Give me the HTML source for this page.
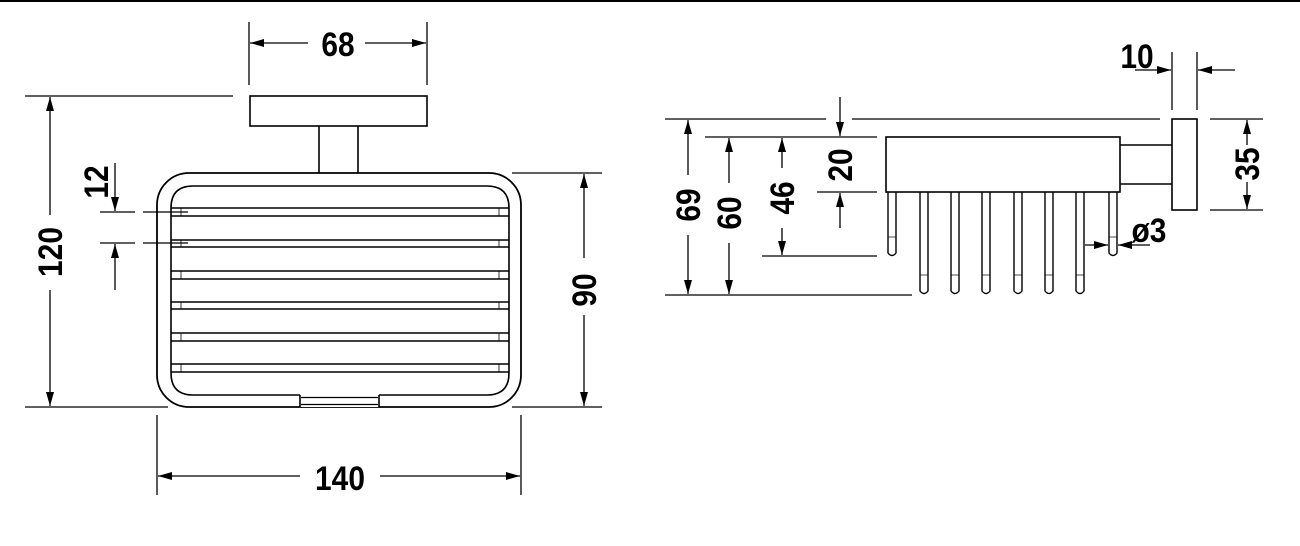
<!DOCTYPE html>
<html><head><meta charset="utf-8"><style>
html,body{margin:0;padding:0;background:#fff;}
svg{display:block}
text{font-family:"Liberation Sans Narrow","Liberation Sans",sans-serif;font-weight:bold;font-size:34px;fill:#000}
</style></head><body>
<svg width="1300" height="546" viewBox="0 0 1300 546" xmlns="http://www.w3.org/2000/svg">
<defs>
<marker id="a" viewBox="0 0 14 8" refX="14" refY="4" markerWidth="14" markerHeight="8" markerUnits="userSpaceOnUse" orient="auto-start-reverse">
<path d="M0,0 L14,4 L0,8 z" fill="#000"/></marker>
</defs>
<rect x="0" y="0" width="1300" height="2" fill="#000"/>
<g stroke="#000" stroke-width="1.3" fill="none">
<line x1="249" y1="22" x2="249" y2="85"/><line x1="427" y1="22" x2="427" y2="85"/>
<line x1="250" y1="43" x2="308" y2="43" marker-start="url(#a)"/>
<line x1="365" y1="43" x2="426" y2="43" marker-end="url(#a)"/>
<rect x="250" y="96" width="177" height="30" stroke-width="1.6"/>
<line x1="319" y1="126" x2="319" y2="173" stroke-width="1.6"/><line x1="358" y1="126" x2="358" y2="173" stroke-width="1.6"/>
<rect x="157" y="173" width="364" height="234" rx="32" stroke-width="1.8"/>
<path d="M300,395 L193,395 Q171,395 171,373 L171,208 Q171,186 193,186 L487,186 Q509,186 509,208 L509,373 Q509,395 487,395 L379,395" stroke-width="1.6"/>
<rect x="300" y="395" width="79" height="12" fill="#fff" stroke="none"/>
<line x1="301" y1="397.5" x2="378" y2="397.5"/><line x1="301" y1="404.5" x2="378" y2="404.5"/>
<line x1="300" y1="395" x2="300" y2="407" stroke-width="1.6"/><line x1="379" y1="395" x2="379" y2="407" stroke-width="1.6"/>
<g stroke-width="1.4">
<line x1="171" y1="208" x2="509" y2="208"/><line x1="171" y1="216" x2="509" y2="216"/>
<line x1="171" y1="240" x2="509" y2="240"/><line x1="171" y1="247" x2="509" y2="247"/>
<line x1="171" y1="271" x2="509" y2="271"/><line x1="171" y1="279" x2="509" y2="279"/>
<line x1="171" y1="302" x2="509" y2="302"/><line x1="171" y1="309" x2="509" y2="309"/>
<line x1="171" y1="333" x2="509" y2="333"/><line x1="171" y1="341" x2="509" y2="341"/>
<line x1="171" y1="364" x2="509" y2="364"/><line x1="171" y1="372" x2="509" y2="372"/>
</g>
<g stroke-width="0.8">
<line x1="181" y1="208" x2="181" y2="216"/><line x1="499" y1="208" x2="499" y2="216"/>
<line x1="181" y1="240" x2="181" y2="247"/><line x1="499" y1="240" x2="499" y2="247"/>
<line x1="181" y1="271" x2="181" y2="279"/><line x1="499" y1="271" x2="499" y2="279"/>
<line x1="181" y1="302" x2="181" y2="309"/><line x1="499" y1="302" x2="499" y2="309"/>
<line x1="181" y1="333" x2="181" y2="341"/><line x1="499" y1="333" x2="499" y2="341"/>
<line x1="181" y1="364" x2="181" y2="372"/><line x1="499" y1="364" x2="499" y2="372"/>
</g>
<line x1="100" y1="212" x2="135" y2="212"/><line x1="143" y1="212" x2="188" y2="212"/>
<line x1="100" y1="243" x2="135" y2="243"/><line x1="143" y1="243" x2="188" y2="243"/>
<line x1="115" y1="163" x2="115" y2="211" marker-end="url(#a)"/>
<line x1="115" y1="290" x2="115" y2="244" marker-end="url(#a)"/>
<line x1="25" y1="96" x2="233" y2="96"/><line x1="25" y1="407" x2="168" y2="407"/>
<line x1="50" y1="97" x2="50" y2="215" marker-start="url(#a)"/>
<line x1="50" y1="290" x2="50" y2="406" marker-end="url(#a)"/>
<line x1="512" y1="173" x2="602" y2="173"/><line x1="512" y1="407" x2="602" y2="407"/>
<line x1="584" y1="174" x2="584" y2="258" marker-start="url(#a)"/>
<line x1="584" y1="315" x2="584" y2="406" marker-end="url(#a)"/>
<line x1="157" y1="415" x2="157" y2="495"/><line x1="521" y1="415" x2="521" y2="495"/>
<line x1="158" y1="476" x2="300" y2="476" marker-start="url(#a)"/>
<line x1="380" y1="476" x2="520" y2="476" marker-end="url(#a)"/>

<line x1="665" y1="119" x2="826" y2="119"/><line x1="852" y1="119" x2="1160" y2="119"/>
<line x1="705" y1="137" x2="877" y2="137"/>
<line x1="817" y1="192" x2="877" y2="192"/>
<line x1="762" y1="256" x2="877" y2="256"/>
<line x1="665" y1="295" x2="912" y2="295"/>
<rect x="886" y="137" width="234" height="55" stroke-width="1.6"/>
<line x1="1120" y1="145" x2="1172" y2="145" stroke-width="1.6"/><line x1="1120" y1="184" x2="1172" y2="184" stroke-width="1.6"/>
<rect x="1172" y="119" width="25" height="91" stroke-width="1.6"/>
<g stroke-width="1.4">
<path d="M888,192 L888,253 Q892,258 896,253 L896,192"/>
<path d="M1109,192 L1109,253 Q1113,258 1117,253 L1117,192"/>
<path d="M920,192 L920,291 Q924,296 928,291 L928,192"/>
<path d="M951,192 L951,291 Q955,296 959,291 L959,192"/>
<path d="M982,192 L982,291 Q986,296 990,291 L990,192"/>
<path d="M1014,192 L1014,291 Q1018,296 1022,291 L1022,192"/>
<path d="M1045,192 L1045,291 Q1049,296 1053,291 L1053,192"/>
<path d="M1076,192 L1076,291 Q1080,296 1084,291 L1084,192"/>
</g>
<g stroke-width="0.7">
<line x1="888" y1="237" x2="896" y2="237"/><line x1="1109" y1="237" x2="1117" y2="237"/>
<line x1="920" y1="275" x2="928" y2="275"/><line x1="951" y1="275" x2="959" y2="275"/>
<line x1="982" y1="275" x2="990" y2="275"/><line x1="1014" y1="275" x2="1022" y2="275"/>
<line x1="1045" y1="275" x2="1053" y2="275"/><line x1="1076" y1="275" x2="1084" y2="275"/>
</g>
<line x1="1172" y1="52" x2="1172" y2="110"/><line x1="1197" y1="52" x2="1197" y2="110"/>
<line x1="1135" y1="70" x2="1171" y2="70" marker-end="url(#a)"/>
<line x1="1235" y1="70" x2="1198" y2="70" marker-end="url(#a)"/>
<line x1="1210" y1="119" x2="1263" y2="119"/><line x1="1210" y1="210" x2="1263" y2="210"/>
<line x1="1247" y1="120" x2="1247" y2="145" marker-start="url(#a)"/>
<line x1="1247" y1="182" x2="1247" y2="209" marker-end="url(#a)"/>
<line x1="688" y1="120" x2="688" y2="175" marker-start="url(#a)"/>
<line x1="688" y1="235" x2="688" y2="294" marker-end="url(#a)"/>
<line x1="729" y1="138" x2="729" y2="183" marker-start="url(#a)"/>
<line x1="729" y1="243" x2="729" y2="294" marker-end="url(#a)"/>
<line x1="782" y1="138" x2="782" y2="168" marker-start="url(#a)"/>
<line x1="782" y1="228" x2="782" y2="255" marker-end="url(#a)"/>
<line x1="840" y1="97" x2="840" y2="136" marker-end="url(#a)"/>
<line x1="840" y1="228" x2="840" y2="193" marker-end="url(#a)"/>
<line x1="1085" y1="245" x2="1108" y2="245" marker-end="url(#a)"/>
<line x1="1150" y1="245" x2="1118" y2="245" marker-end="url(#a)"/>
</g>
<g text-anchor="middle">
<text transform="translate(338,56) scale(0.88,1)">68</text>
<text transform="translate(340,490) scale(0.88,1)">140</text>
<text transform="translate(62,252) rotate(-90) scale(0.88,1)">120</text>
<text transform="translate(108,182) rotate(-90) scale(0.88,1)">12</text>
<text transform="translate(596,290) rotate(-90) scale(0.88,1)">90</text>
<text transform="translate(1137,68) scale(0.88,1)">10</text>
<text transform="translate(1259,164) rotate(-90) scale(0.88,1)">35</text>
<text transform="translate(700,205) rotate(-90) scale(0.88,1)">69</text>
<text transform="translate(741,213) rotate(-90) scale(0.88,1)">60</text>
<text transform="translate(794,198) rotate(-90) scale(0.88,1)">46</text>
<text transform="translate(852,165) rotate(-90) scale(0.88,1)">20</text>
<text transform="translate(1149,242) scale(0.88,1)">ø3</text>
</g>
</svg>
</body></html>
